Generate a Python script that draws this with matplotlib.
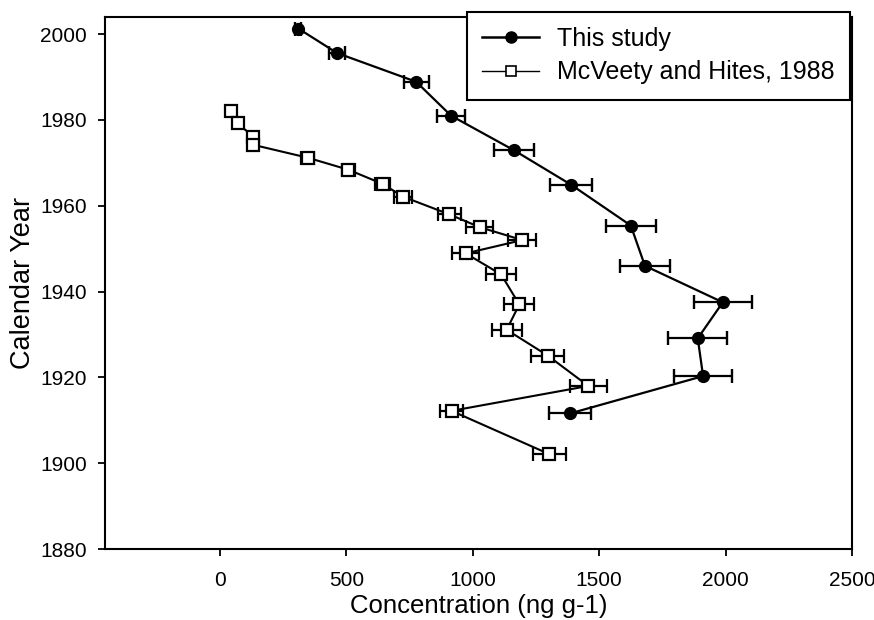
import matplotlib
matplotlib.use("Agg")
import matplotlib.pyplot as plt
from matplotlib.lines import Line2D

plt.rcParams['font.family'] = ['Liberation Sans', 'DejaVu Sans']

# This study (filled circles)
study_year = [2001.3, 1995.6, 1988.9, 1981.0, 1972.9, 1964.9, 1955.4, 1946.0,
              1937.5, 1929.1, 1920.3, 1911.6]
study_conc = [310, 463, 776, 914, 1164, 1389, 1625, 1681, 1989, 1890, 1911, 1385]
study_err = [12, 30, 50, 56, 80, 83, 100, 100, 115, 117, 115, 84]

# McVeety and Hites, 1988 (open squares)
mcv_year = [1982.2, 1979.2, 1976.1, 1974.2, 1971.2, 1968.4, 1965.1, 1962.1,
            1958.0, 1955.0, 1952.0, 1948.9, 1944.0, 1937.0, 1931.1, 1925.1,
            1918.0, 1912.2, 1902.1]
mcv_conc = [43, 70, 132, 132, 347, 508, 643, 725, 907, 1028, 1196, 972,
            1112, 1184, 1134, 1296, 1457, 916, 1303]
mcv_err = [10, 10, 8, 8, 25, 26, 31, 36, 46, 53, 55, 53, 58, 59, 59, 66,
           72, 46, 65]

fig = plt.figure(figsize=(8.74, 6.2), dpi=100)
ax = fig.add_axes([0.1201, 0.1145, 0.8547, 0.8581])

ax.errorbar(study_conc, study_year, xerr=study_err, color='black', lw=1.6,
            marker='o', ms=8.5, mfc='black', mec='black', capsize=4.8,
            elinewidth=1.6, capthick=1.7, zorder=3)
ax.errorbar(mcv_conc, mcv_year, xerr=mcv_err, color='black', lw=1.5,
            marker='s', ms=9, mfc='white', mec='black', mew=1.6, capsize=4.8,
            elinewidth=1.6, capthick=1.7, zorder=3)

ax.set_xlim(-455, 2500)
ax.set_ylim(1880, 2004)
ax.set_xticks([0, 500, 1000, 1500, 2000, 2500])
ax.set_yticks(range(1880, 2001, 20))
ax.tick_params(direction='out', length=5, width=1.3, labelsize=15)
ax.tick_params(axis='y', pad=8)
ax.tick_params(axis='x', pad=11)
for s in ax.spines.values():
    s.set_linewidth(1.5)

ax.set_xlabel('Concentration (ng g-1)', fontsize=18.5, labelpad=3)
ax.set_ylabel('Calendar Year', fontsize=19.5, labelpad=3)

handles = [
    Line2D([], [], color='black', lw=1.8, marker='o', ms=8, mfc='black'),
    Line2D([], [], color='black', lw=1.0, marker='s', ms=6.5, mfc='white',
           mew=1.2),
]
leg = fig.legend(handles, ['This study', 'McVeety and Hites, 1988'],
                 loc='upper right', bbox_to_anchor=(850 / 874, 1 - 12 / 620),
                 fontsize=18, frameon=True, fancybox=False, framealpha=1,
                 edgecolor='black', handlelength=2.25, handletextpad=0.75,
                 borderpad=0.6, labelspacing=0.38, borderaxespad=0)
leg.get_frame().set_linewidth(1.5)
leg.set_zorder(10)

fig.savefig('out.png', dpi=100)
